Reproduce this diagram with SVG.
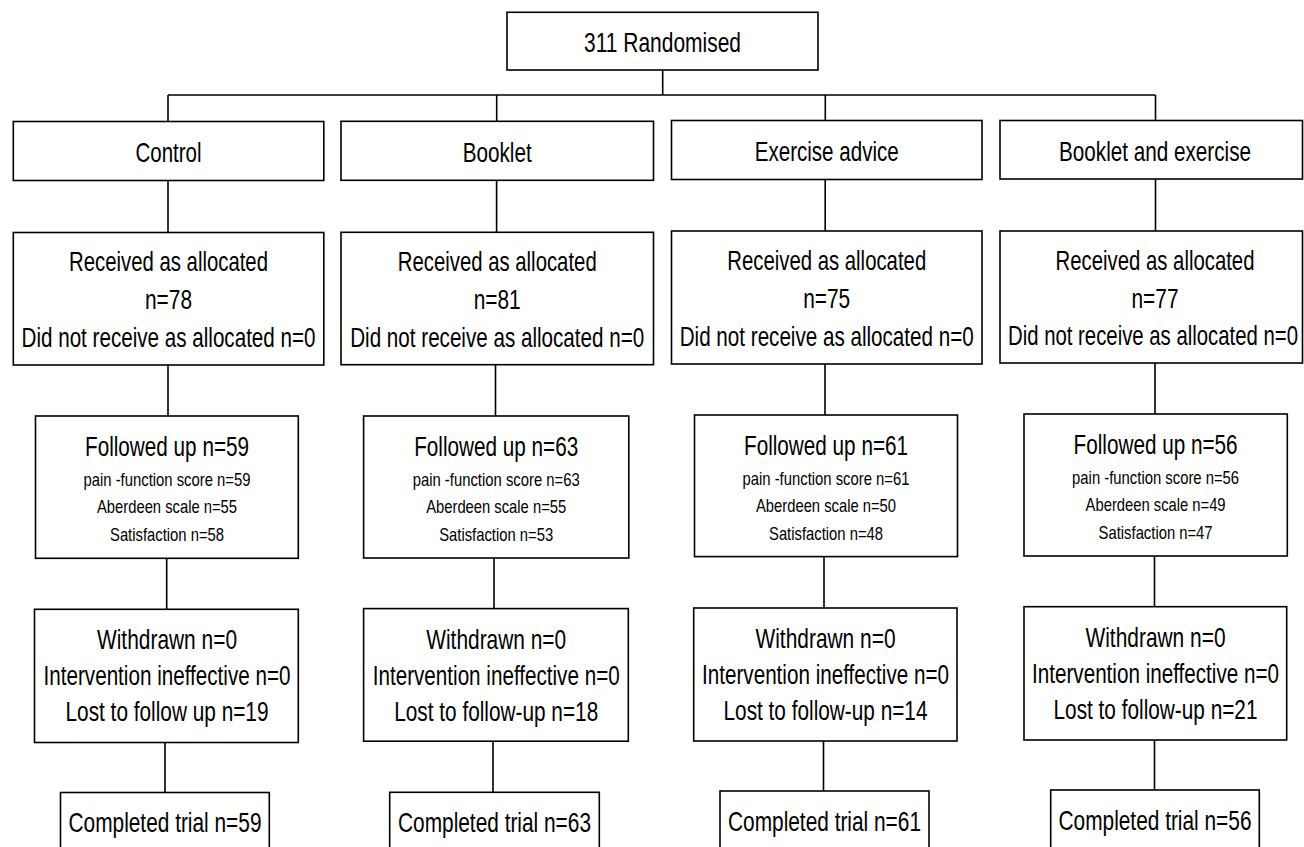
<svg xmlns="http://www.w3.org/2000/svg" width="1304" height="847" viewBox="0 0 1304 847">
<style>
.box{fill:#fff;stroke:#000;stroke-width:1.6}
.ln{fill:none;stroke:#000;stroke-width:1.6}
text{font-family:"Liberation Sans Narrow","Liberation Sans",Arial,sans-serif;font-size:27.5px;text-anchor:middle;fill:#000}
text.s{font-size:18px}
</style>
<rect width="1304" height="847" fill="#fff"/>
<g id="connectors">
<path class="ln" d="M662.7 70V95M168 95H1155.5M168 95V121.5M496.7 95V121.3M825.3 95V120.5M1155.5 95V120.5"/>
<path class="ln" d="M168 180.5V232.5M168 365V416M166.7 558.3V609.3M165 742.5V792.5"/>
<path class="ln" d="M496.6 180.3V232.3M495.5 364.7V416M494 558V608.6M493 741.2V792.3"/>
<path class="ln" d="M825.2 179.5V231M825 364V415M824 556.6V608M823.5 741V791"/>
<path class="ln" d="M1155.5 179V231M1155 363V414M1154.5 556V606.7M1154.5 740V790"/>
</g>
<g id="randomised">
<rect class="box" x="507" y="12.3" width="311" height="57.7"/>
<text transform="translate(662.5 52) scale(0.75 1)" textLength="209.3" lengthAdjust="spacingAndGlyphs">311 Randomised</text>
</g>
<g id="control">
<rect class="box" x="13.3" y="121.5" width="310.5" height="59"/>
<text transform="translate(168.5 162) scale(0.75 1)" textLength="88" lengthAdjust="spacingAndGlyphs">Control</text>
</g>
<g id="booklet">
<rect class="box" x="341" y="121.3" width="312.5" height="59"/>
<text transform="translate(497.2 162) scale(0.75 1)" textLength="92" lengthAdjust="spacingAndGlyphs">Booklet</text>
</g>
<g id="exercise">
<rect class="box" x="671.5" y="120.5" width="310.5" height="59"/>
<text transform="translate(826.7 161) scale(0.75 1)" textLength="192" lengthAdjust="spacingAndGlyphs">Exercise advice</text>
</g>
<g id="booklet-exercise">
<rect class="box" x="1000" y="120.5" width="302.5" height="58.5"/>
<text transform="translate(1155 161) scale(0.75 1)" textLength="256" lengthAdjust="spacingAndGlyphs">Booklet and exercise</text>
</g>
<g id="received-control">
<rect class="box" x="13.3" y="232.5" width="310.5" height="132.5"/>
<text transform="translate(168.5 271) scale(0.75 1)" textLength="265.3" lengthAdjust="spacingAndGlyphs">Received as allocated</text>
<text transform="translate(168.5 309) scale(0.75 1)" textLength="62.7" lengthAdjust="spacingAndGlyphs">n=78</text>
<text transform="translate(168.5 346.5) scale(0.75 1)" textLength="392" lengthAdjust="spacingAndGlyphs">Did not receive as allocated n=0</text>
</g>
<g id="received-booklet">
<rect class="box" x="341" y="232.3" width="312.5" height="132.4"/>
<text transform="translate(497.2 271) scale(0.75 1)" textLength="265.3" lengthAdjust="spacingAndGlyphs">Received as allocated</text>
<text transform="translate(497.2 309) scale(0.75 1)" textLength="62.7" lengthAdjust="spacingAndGlyphs">n=81</text>
<text transform="translate(497.2 346.5) scale(0.75 1)" textLength="392" lengthAdjust="spacingAndGlyphs">Did not receive as allocated n=0</text>
</g>
<g id="received-exercise">
<rect class="box" x="671.5" y="231" width="310.5" height="133"/>
<text transform="translate(826.7 270) scale(0.75 1)" textLength="265.3" lengthAdjust="spacingAndGlyphs">Received as allocated</text>
<text transform="translate(826.7 308) scale(0.75 1)" textLength="62.7" lengthAdjust="spacingAndGlyphs">n=75</text>
<text transform="translate(826.7 345.5) scale(0.75 1)" textLength="392" lengthAdjust="spacingAndGlyphs">Did not receive as allocated n=0</text>
</g>
<g id="received-booklet-exercise">
<rect class="box" x="1000" y="231" width="302.5" height="132"/>
<text transform="translate(1155 269.5) scale(0.75 1)" textLength="265.3" lengthAdjust="spacingAndGlyphs">Received as allocated</text>
<text transform="translate(1155 307.5) scale(0.75 1)" textLength="62.7" lengthAdjust="spacingAndGlyphs">n=77</text>
<text transform="translate(1153 345) scale(0.75 1)" textLength="386.7" lengthAdjust="spacingAndGlyphs">Did not receive as allocated n=0</text>
</g>
<g id="followed-control">
<rect class="box" x="35.5" y="416" width="262.8" height="142.3"/>
<text transform="translate(167 455.5) scale(0.75 1)" textLength="218.7" lengthAdjust="spacingAndGlyphs">Followed up n=59</text>
<text class="s" transform="translate(167 485.5) scale(0.82 1)" textLength="203.7" lengthAdjust="spacingAndGlyphs">pain -function score n=59</text>
<text class="s" transform="translate(167 513) scale(0.82 1)" textLength="170.7" lengthAdjust="spacingAndGlyphs">Aberdeen scale n=55</text>
<text class="s" transform="translate(167 540.5) scale(0.82 1)" textLength="139" lengthAdjust="spacingAndGlyphs">Satisfaction n=58</text>
</g>
<g id="followed-booklet">
<rect class="box" x="363.6" y="416" width="265.2" height="142"/>
<text transform="translate(496.2 455.5) scale(0.75 1)" textLength="218.7" lengthAdjust="spacingAndGlyphs">Followed up n=63</text>
<text class="s" transform="translate(496.2 485.5) scale(0.82 1)" textLength="203.7" lengthAdjust="spacingAndGlyphs">pain -function score n=63</text>
<text class="s" transform="translate(496.2 513) scale(0.82 1)" textLength="170.7" lengthAdjust="spacingAndGlyphs">Aberdeen scale n=55</text>
<text class="s" transform="translate(496.2 540.5) scale(0.82 1)" textLength="139" lengthAdjust="spacingAndGlyphs">Satisfaction n=53</text>
</g>
<g id="followed-exercise">
<rect class="box" x="694.5" y="415" width="263" height="141.6"/>
<text transform="translate(826 454.5) scale(0.75 1)" textLength="218.7" lengthAdjust="spacingAndGlyphs">Followed up n=61</text>
<text class="s" transform="translate(826 484.5) scale(0.82 1)" textLength="203.7" lengthAdjust="spacingAndGlyphs">pain -function score n=61</text>
<text class="s" transform="translate(826 512) scale(0.82 1)" textLength="170.7" lengthAdjust="spacingAndGlyphs">Aberdeen scale n=50</text>
<text class="s" transform="translate(826 539.5) scale(0.82 1)" textLength="139" lengthAdjust="spacingAndGlyphs">Satisfaction n=48</text>
</g>
<g id="followed-booklet-exercise">
<rect class="box" x="1024" y="414" width="263.3" height="142"/>
<text transform="translate(1155.6 453.5) scale(0.75 1)" textLength="218.7" lengthAdjust="spacingAndGlyphs">Followed up n=56</text>
<text class="s" transform="translate(1155.6 483.5) scale(0.82 1)" textLength="203.7" lengthAdjust="spacingAndGlyphs">pain -function score n=56</text>
<text class="s" transform="translate(1155.6 511) scale(0.82 1)" textLength="170.7" lengthAdjust="spacingAndGlyphs">Aberdeen scale n=49</text>
<text class="s" transform="translate(1155.6 538.5) scale(0.82 1)" textLength="139" lengthAdjust="spacingAndGlyphs">Satisfaction n=47</text>
</g>
<g id="withdrawn-control">
<rect class="box" x="34.5" y="609.3" width="263.8" height="133.2"/>
<text transform="translate(167 649) scale(0.75 1)" textLength="186.7" lengthAdjust="spacingAndGlyphs">Withdrawn n=0</text>
<text transform="translate(167 685) scale(0.75 1)" textLength="329.3" lengthAdjust="spacingAndGlyphs">Intervention ineffective n=0</text>
<text transform="translate(167 721) scale(0.75 1)" textLength="270.7" lengthAdjust="spacingAndGlyphs">Lost to follow up n=19</text>
</g>
<g id="withdrawn-booklet">
<rect class="box" x="363.6" y="608.6" width="264.7" height="132.6"/>
<text transform="translate(496.2 648.5) scale(0.75 1)" textLength="186.7" lengthAdjust="spacingAndGlyphs">Withdrawn n=0</text>
<text transform="translate(496.2 684.5) scale(0.75 1)" textLength="329.3" lengthAdjust="spacingAndGlyphs">Intervention ineffective n=0</text>
<text transform="translate(496.2 720.5) scale(0.75 1)" textLength="272" lengthAdjust="spacingAndGlyphs">Lost to follow-up n=18</text>
</g>
<g id="withdrawn-exercise">
<rect class="box" x="693.7" y="608" width="263.3" height="133"/>
<text transform="translate(825.5 648) scale(0.75 1)" textLength="186.7" lengthAdjust="spacingAndGlyphs">Withdrawn n=0</text>
<text transform="translate(825.5 684) scale(0.75 1)" textLength="329.3" lengthAdjust="spacingAndGlyphs">Intervention ineffective n=0</text>
<text transform="translate(825.5 720) scale(0.75 1)" textLength="272" lengthAdjust="spacingAndGlyphs">Lost to follow-up n=14</text>
</g>
<g id="withdrawn-booklet-exercise">
<rect class="box" x="1024" y="606.7" width="262.7" height="133.3"/>
<text transform="translate(1155.5 646.5) scale(0.75 1)" textLength="186.7" lengthAdjust="spacingAndGlyphs">Withdrawn n=0</text>
<text transform="translate(1155.5 682.5) scale(0.75 1)" textLength="329.3" lengthAdjust="spacingAndGlyphs">Intervention ineffective n=0</text>
<text transform="translate(1155.5 718.5) scale(0.75 1)" textLength="272" lengthAdjust="spacingAndGlyphs">Lost to follow-up n=21</text>
</g>
<g id="completed-control">
<rect class="box" x="60.5" y="792.5" width="208.8" height="70"/>
<text transform="translate(165 831.5) scale(0.75 1)" textLength="257.3" lengthAdjust="spacingAndGlyphs">Completed trial n=59</text>
</g>
<g id="completed-booklet">
<rect class="box" x="389.7" y="792.3" width="209.6" height="70"/>
<text transform="translate(494.5 831.5) scale(0.75 1)" textLength="257.3" lengthAdjust="spacingAndGlyphs">Completed trial n=63</text>
</g>
<g id="completed-exercise">
<rect class="box" x="720" y="791" width="209" height="70"/>
<text transform="translate(824.5 830.5) scale(0.75 1)" textLength="257.3" lengthAdjust="spacingAndGlyphs">Completed trial n=61</text>
</g>
<g id="completed-booklet-exercise">
<rect class="box" x="1050.7" y="790" width="208.6" height="70"/>
<text transform="translate(1155 829.5) scale(0.75 1)" textLength="257.3" lengthAdjust="spacingAndGlyphs">Completed trial n=56</text>
</g>
</svg>
